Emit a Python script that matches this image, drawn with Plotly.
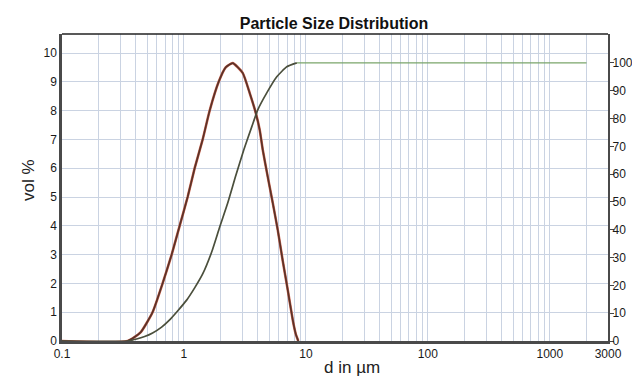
import plotly.graph_objects as go

# ---- data ----
density_d = [0.1, 0.345, 0.441, 0.553, 0.668, 0.793, 0.922, 1.072, 1.224, 1.424, 1.625,
             1.927, 2.199, 2.51, 3.03, 3.46, 3.88, 4.18, 4.43, 4.87, 5.35, 5.88,
             6.46, 7.10, 7.80, 8.26, 8.66]
density_vol = [0, 0, 0.3, 1, 2, 3, 4, 5, 6, 7, 8,
               9, 9.5, 9.65, 9.31, 8.61, 7.92, 7.33, 6.63, 5.69, 4.79, 3.85,
               2.78, 1.77, 0.73, 0.24, 0]

cum_d = [0.1, 0.345, 0.409, 0.476, 0.553, 0.656, 0.763, 0.887, 1.052, 1.224, 1.424,
         1.688, 1.964, 2.285, 2.658, 3.092, 3.596, 4.028, 4.775, 5.77, 6.97, 8.42]
cum_pct = [0, 0, 0.7, 1.6, 2.9, 5.0, 7.6, 10.8, 14.7, 19.1, 24.1,
           32.0, 41.0, 49.6, 59.4, 68.7, 77.0, 83.1, 89.2, 95.0, 98.6, 100]

flat_d = [8.42, 2000]
flat_pct = [100, 100]

x_tickvals = [0.1, 1, 10, 100, 1000, 3000]
x_ticktext = ["0.1", "1", "10", "100", "1000", "3000"]
left_ticks = list(range(0, 11))
right_ticks = list(range(0, 101, 10))

grid_vals = [k * 10 ** n for n in range(-1, 4) for k in range(1, 10) if k * 10 ** n <= 3000]

FONT = "Liberation Sans, Arial, sans-serif"

fig = go.Figure()
# density: red fringe + dark brown line
fig.add_trace(go.Scatter(x=density_d, y=density_vol, mode="lines",
                         line=dict(color="#cf6a55", width=2.6, shape="spline", smoothing=0.5),
                         hoverinfo="skip", showlegend=False))
fig.add_trace(go.Scatter(x=density_d, y=density_vol, mode="lines",
                         line=dict(color="#5a3228", width=1.7, shape="spline", smoothing=0.5),
                         showlegend=False))
# cumulative on right axis
fig.add_trace(go.Scatter(x=flat_d, y=flat_pct, mode="lines", yaxis="y2",
                         line=dict(color="#7aa56a", width=1.3), showlegend=False))
fig.add_trace(go.Scatter(x=cum_d, y=cum_pct, mode="lines", yaxis="y2",
                         line=dict(color="#4b4f3c", width=1.7, shape="spline", smoothing=0.5),
                         showlegend=False))

# page pixel -> plot-area paper coords (plot area spans page x 62..608, y 34..341)
def px2paper_x(px):
    return (px - 62) / 546

def px2paper_y(py):
    return (341 - py) / 307

# the page body has an 8px margin; keep the figure inside the 640x385 window
OFF = 8
W, H = 640 - OFF, 385 - 2 * OFF

fig.update_layout(
    width=W, height=H,
    margin=dict(l=62 - OFF, r=W - (608 - OFF), t=34 - OFF, b=H - (341 - OFF), autoexpand=False),
    paper_bgcolor="white", plot_bgcolor="white",
    font=dict(family=FONT, color="#1a1a1a", size=12),
    title=dict(text="<b>Particle Size Distribution</b>", x=(334 - OFF) / W, xanchor="center",
               y=1 - (23 - OFF) / H, yanchor="middle", automargin=False,
               font=dict(family=FONT, size=16, color="#111")),
    xaxis=dict(type="log", range=[-1, 3.4771], tickvals=x_tickvals, ticktext=x_ticktext,
               showgrid=False, ticks="", showline=True, linecolor="#4a4a4a", linewidth=2.5,
               mirror=False, zeroline=False, automargin=False,
               tickfont=dict(size=12, color="#1a1a1a"),
               minor=dict(tickvals=grid_vals, showgrid=True, gridcolor="#cad3e2", gridwidth=1, ticks="")),
    yaxis=dict(range=[0, 10.66], tickvals=left_ticks, showgrid=True, gridcolor="#cad3e2",
               gridwidth=1, ticks="", showline=True, linecolor="#4a4a4a", linewidth=2.5,
               zeroline=False, automargin=False, tickfont=dict(size=12, color="#1a1a1a")),
    yaxis2=dict(range=[0, 110.4], tickvals=right_ticks, overlaying="y", side="right",
                showgrid=False, ticks="outside", ticklen=4, tickcolor="#444",
                ticklabelstandoff=-4,
                showline=True, linecolor="#4a4a4a", linewidth=2.2, zeroline=False,
                automargin=False, tickfont=dict(size=12, color="#1a1a1a")),
    shapes=[
        dict(type="line", xref="paper", yref="paper", x0=0, x1=1, y0=1, y1=1,
             line=dict(color="#222", width=1.5)),
    ],
    annotations=[
        dict(text="d in µm", xref="paper", yref="paper", x=px2paper_x(352), y=px2paper_y(367),
             showarrow=False, xanchor="center", yanchor="middle",
             font=dict(family=FONT, size=17, color="#222")),
        dict(text="vol %", xref="paper", yref="paper", x=px2paper_x(28), y=px2paper_y(180),
             showarrow=False, xanchor="center", yanchor="middle", textangle=-90,
             font=dict(family=FONT, size=17, color="#222")),
    ],
)

fig.write_html("out.html")
